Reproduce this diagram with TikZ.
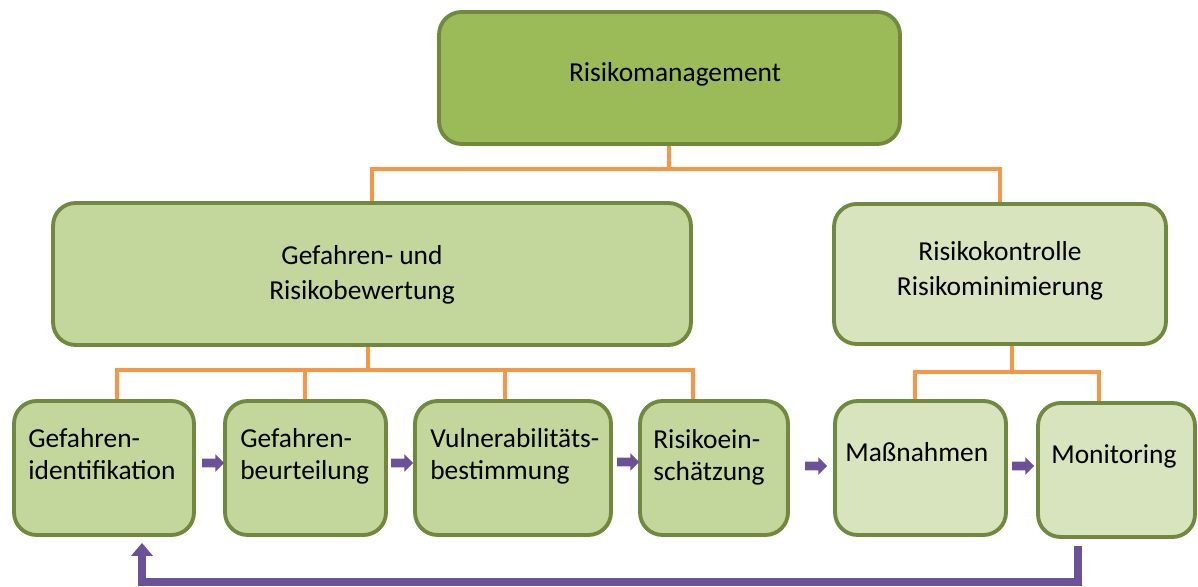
\documentclass[tikz,border=0pt]{standalone}
\usepackage{fontspec}
\setmainfont{Carlito}
\usetikzlibrary{calc,shapes.arrows,arrows.meta}
\definecolor{olivedark}{HTML}{71893F}
\definecolor{greenmid}{HTML}{9BBB59}
\definecolor{greenlight}{HTML}{C3D69B}
\definecolor{greenpale}{HTML}{D7E4BD}
\definecolor{orangeline}{HTML}{F79646}
\definecolor{purplearrow}{HTML}{6B5298}
\tikzset{
  box/.style={draw=olivedark, line width=2.2pt, rounded corners=0.45cm, inner sep=0pt},
  txt/.style={inner sep=0pt, font=\fontsize{15.6}{18.1}\selectfont, align=left},
  conn/.style={draw=orangeline, line width=2.2pt},
  flow/.style={single arrow, fill=purplearrow, inner sep=0.08cm, minimum height=0.44cm,
    minimum width=0.34cm, single arrow head extend=0.09cm, single arrow head indent=0pt},
  back/.style={draw=purplearrow, line width=5pt, -{Triangle[length=0.26cm,width=0.42cm]}}
}
\begin{document}
\begin{tikzpicture}[x=0.02cm, y=-0.02cm]
  \useasboundingbox (0,0) rectangle (1198,587);
  \node[box, fill=greenmid, minimum width=9.22cm, minimum height=2.64cm] (top) at (669.5,78) {};
  \node[box, fill=greenlight, minimum width=12.76cm, minimum height=2.84cm] (midL) at (372,274) {};
  \node[box, fill=greenpale, minimum width=6.64cm, minimum height=2.80cm] (midR) at (1000,274) {};
  \node[box, fill=greenlight, minimum width=3.60cm, minimum height=2.68cm] (b1) at (104,468) {};
  \node[box, fill=greenlight, minimum width=3.22cm, minimum height=2.68cm] (b2) at (305.5,468) {};
  \node[box, fill=greenlight, minimum width=3.92cm, minimum height=2.68cm] (b3) at (513,468) {};
  \node[box, fill=greenlight, minimum width=2.96cm, minimum height=2.68cm] (b4) at (714,468) {};
  \node[box, fill=greenpale, minimum width=3.42cm, minimum height=2.68cm] (b5) at (920.5,468) {};
  \node[box, fill=greenpale, minimum width=3.14cm, minimum height=2.68cm] (b6) at (1116.5,470) {};

  \node[txt, anchor=base] (ttop) at (675,82) {Risikomanagement};
  \node[txt, anchor=north, align=center, font=\fontsize{15.6}{19.8}\selectfont] (tmidL) at (362,245) {Gefahren- und\\Risikobewertung};
  \node[txt, anchor=north, align=center, font=\fontsize{15.6}{20.2}\selectfont] (tmidR) at (1000,241) {Risikokontrolle\\Risikominimierung};
  \node[txt, anchor=north west] (t1) at (28,428) {Gefahren-\\identifikation};
  \node[txt, anchor=north west] (t2) at (240,428) {Gefahren-\\beurteilung};
  \node[txt, anchor=north west] (t3) at (430,428) {Vulnerabilitäts-\\bestimmung};
  \node[txt, anchor=north west] (t4) at (653,429) {Risikoein-\\schätzung};
  \node[txt, anchor=north west] (t5) at (845,442) {Maßnahmen};
  \node[txt, anchor=north west] (t6) at (1051,444) {Monitoring};

  \coordinate (busT) at (669,169);
  \coordinate (busL) at (368,370);
  \coordinate (busR) at (1012,372);
  \draw[conn] (top.south -| busT) -- (busT);
  \draw[conn] (midL.north) |- (busT) -| (midR.north);
  \draw[conn] (midL.south -| busL) -- (busL);
  \draw[conn] (b1.north -| 117,0) |- (busL -| 693,0) -- (b4.north -| 693,0);
  \foreach \x in {305,505} \draw[conn] (b2.north -| \x,0) -- (busL -| \x,0);
  \draw[conn] (midR.south -| busR) -- (busR);
  \draw[conn] (b5.north -| 915,0) |- (busR -| 1099,0) -- (b6.north -| 1099,0);

  \foreach \n/\x/\y in {a12/211/463, a23/400/463, a34/626/462, a45/814/466, a56/1021/466}
    \node[flow] (\n) at (\x,\y) {};
  \draw[back, shorten <=0.14cm, shorten >=0.12cm] (b6.south -| 1078,0) -- (1078,582) -| (b1.south -| 142,0);
\end{tikzpicture}
\end{document}
